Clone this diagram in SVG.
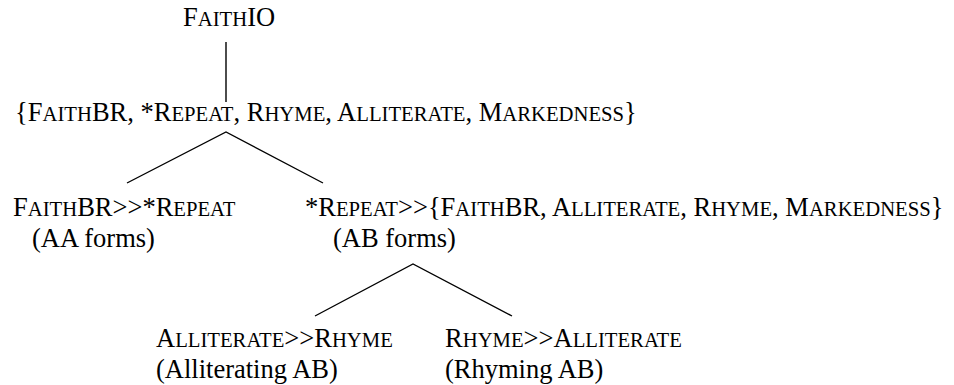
<svg xmlns="http://www.w3.org/2000/svg" width="954" height="385" viewBox="0 0 954 385">
<style>
.t{font-family:'Liberation Serif',serif;font-size:26.5px;fill:#000}
.sc{font-size:20.7px}
.ln{stroke:#000;stroke-width:1.4;fill:none}
</style>
<rect width="954" height="385" fill="#fff"/>
<g id="connectors">
<line class="ln" x1="226" y1="42" x2="226" y2="102"/>
<polyline class="ln" points="127,183 226,132 323,183"/>
<polyline class="ln" points="315,316 413,264 512,316"/>
</g>
<g id="faithio"><text class="t" x="183" y="26">F<tspan class="sc">AITH</tspan>IO</text></g>
<g id="root-set"><text class="t" x="15" y="121">{F<tspan class="sc">AITH</tspan>BR, *R<tspan class="sc">EPEAT</tspan>, R<tspan class="sc">HYME</tspan>, A<tspan class="sc">LLITERATE</tspan>, M<tspan class="sc">ARKEDNESS</tspan>}</text></g>
<g id="aa"><text class="t" x="13" y="216">F<tspan class="sc">AITH</tspan>BR&gt;&gt;*R<tspan class="sc">EPEAT</tspan></text><text class="t" x="32" y="247">(AA forms)</text></g>
<g id="ab"><text class="t" x="305" y="216">*R<tspan class="sc">EPEAT</tspan>&gt;&gt;{F<tspan class="sc">AITH</tspan>BR, A<tspan class="sc">LLITERATE</tspan>, R<tspan class="sc">HYME</tspan>, M<tspan class="sc">ARKEDNESS</tspan>}</text><text class="t" x="333" y="247">(AB forms)</text></g>
<g id="allit"><text class="t" x="156" y="347">A<tspan class="sc">LLITERATE</tspan>&gt;&gt;R<tspan class="sc">HYME</tspan></text><text class="t" x="156" y="378">(Alliterating AB)</text></g>
<g id="rhyme"><text class="t" x="445" y="347">R<tspan class="sc">HYME</tspan>&gt;&gt;A<tspan class="sc">LLITERATE</tspan></text><text class="t" x="445" y="378">(Rhyming AB)</text></g>
</svg>
